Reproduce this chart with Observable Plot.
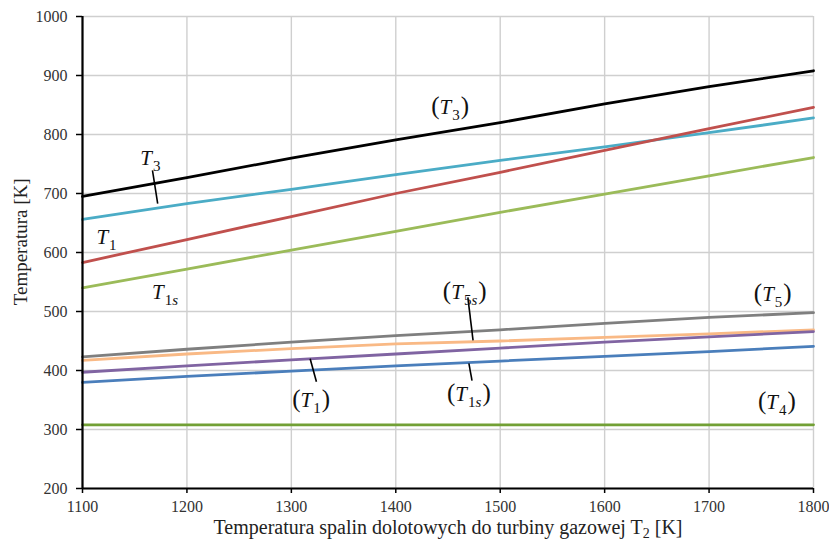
<!DOCTYPE html>
<html>
<head>
<meta charset="utf-8">
<script src="https://cdn.jsdelivr.net/npm/d3@7"></script>
<script src="https://cdn.jsdelivr.net/npm/@observablehq/plot@0.6"></script>
<style>
  html, body { margin: 0; padding: 0; background: #fff; }
  #chart svg { display: block; font-family: "Liberation Serif", "DejaVu Serif", serif; }
  #chart svg text { font-family: "Liberation Serif", "DejaVu Serif", serif; }
</style>
</head>
<body>
<div id="chart"></div>
<script>
// Gas turbine exhaust temperature T2 [K] (x axis)
const t2 = [1100, 1200, 1300, 1400, 1500, 1600, 1700, 1800];

// Temperature series [K]
const seriesT3     = [695, 727, 760, 791, 820, 852, 881, 908];  // black
const seriesT3b    = [656, 683, 707, 732, 756, 779, 803, 828];  // cyan
const seriesT1     = [583, 622, 661, 700, 736, 773, 810, 846];  // red
const seriesT1s    = [540, 572, 604, 636, 668, 699, 730, 761];  // light green
const seriesT5     = [423, 436, 448, 459, 469, 480, 490, 498];  // gray
const seriesT5s    = [417, 428, 437, 445, 450, 456, 462, 469];  // orange
const seriesT1p    = [397, 408, 418, 428, 438, 448, 457, 466];  // purple
const seriesT1sp   = [380, 390, 399, 408, 416, 424, 432, 441];  // blue
const seriesT4     = [308, 308, 308, 308, 308, 308, 308, 308];  // dark green

const seriesNames  = ["T3", "T3b", "T1", "T1s", "T5", "T5s", "T1p", "T1sp", "T4"];
const seriesValues = [seriesT3, seriesT3b, seriesT1, seriesT1s, seriesT5, seriesT5s, seriesT1p, seriesT1sp, seriesT4];
const seriesColors = ["#000000", "#4bacc6", "#c0504d", "#9bbb59", "#7f7f7f", "#f9b985", "#8064a2", "#4a7ebb", "#72a035"];

const xTicks = [1100, 1200, 1300, 1400, 1500, 1600, 1700, 1800];
const yTicks = [200, 300, 400, 500, 600, 700, 800, 900, 1000];

// Curve annotations (label text, anchor point in data units)
const labelText = ["T_3", "T_1", "(T_3)", "T_1s", "(T_1)", "(T_5s)", "(T_5)", "(T_1s)", "(T_4)"];
const labelX    = [1165, 1123, 1452, 1179, 1319, 1466, 1761, 1470, 1765];
const labelY    = [760, 625, 846, 532, 349, 532, 529, 359, 346];

// Leader lines linking labels to curves
const leaderX1 = [1167, 1318, 1469, 1470];
const leaderY1 = [739, 420, 524, 412];
const leaderX2 = [1172, 1324, 1474, 1473];
const leaderY2 = [683, 381, 451, 383];

const rows = seriesNames.flatMap((name, i) =>
  t2.map((x, j) => ({series: name, x, y: seriesValues[i][j]})));
const labels = labelText.map((text, i) => ({text, x: labelX[i], y: labelY[i]}));
const leaders = leaderX1.map((x1, i) => ({x1, y1: leaderY1[i], x2: leaderX2[i], y2: leaderY2[i]}));

const serif = "Liberation Serif, DejaVu Serif, serif";

const chart = Plot.plot({
  width: 829,
  height: 547,
  marginLeft: 82,
  marginRight: 16,
  marginTop: 16,
  marginBottom: 59,
  style: {fontFamily: serif, fontSize: "16px", color: "#333", background: "#fff"},
  x: {domain: [1100, 1800], ticks: xTicks},
  y: {domain: [200, 1000], ticks: yTicks},
  color: {domain: seriesNames, range: seriesColors},
  marks: [
    Plot.gridX(xTicks, {stroke: "#cfcfcf", strokeOpacity: 1, strokeWidth: 1.4}),
    Plot.gridY(yTicks, {stroke: "#cfcfcf", strokeOpacity: 1, strokeWidth: 1.4}),
    Plot.axisX(xTicks, {tickSize: 5, tickPadding: 7, stroke: "#000", strokeWidth: 1.5, label: null,
      tickFormat: d => String(d), fontFamily: serif, fontSize: 16, fill: "#333"}),
    Plot.axisY(yTicks, {tickSize: 6, tickPadding: 9, stroke: "#000", strokeWidth: 1.5, label: null,
      tickFormat: d => String(d), fontFamily: serif, fontSize: 16, fill: "#333"}),
    Plot.line(rows, {x: "x", y: "y", z: "series", stroke: "series", strokeWidth: 2.8}),
    Plot.ruleX([1100], {stroke: "#000", strokeWidth: 2.2}),
    Plot.ruleY([200], {stroke: "#000", strokeWidth: 2.2}),
    Plot.link(leaders, {x1: "x1", y1: "y1", x2: "x2", y2: "y2", stroke: "#000", strokeWidth: 1.6}),
    Plot.text(labels, {x: "x", y: "y", text: "text", fontSize: 21, fontFamily: serif, fill: "#111", textAnchor: "middle"}),
    Plot.text(["Temperatura spalin dolotowych do turbiny gazowej T_2 [K]"], {
      x: 1450, frameAnchor: "bottom", dy: 45, fontSize: 20, fontFamily: serif, fill: "#222", text: d => d
    }),
    Plot.text(["Temperatura [K]"], {
      y: 618, frameAnchor: "left", dx: -62, rotate: -90, textAnchor: "middle",
      fontSize: 19, fontFamily: serif, fill: "#222", text: d => d
    })
  ]
});

// Turn "T_xx" into T with a subscript; annotation parentheses are drawn taller
const svgNS = "http://www.w3.org/2000/svg";
function tspan(parent, txt, attrs) {
  const t = document.createElementNS(svgNS, "tspan");
  for (const k in attrs) t.setAttribute(k, attrs[k]);
  t.textContent = txt;
  parent.appendChild(t);
  return t;
}
chart.querySelectorAll("text").forEach(el => {
  const s = el.textContent;
  if (!s.includes("T_")) return;
  const isAxisTitle = s.length > 12;
  el.textContent = "";
  const parts = s.split(/(T_\w+)/);
  let shift = 0;
  for (const p of parts) {
    if (!p) continue;
    if (p.startsWith("T_")) {
      const subTxt = p.slice(2);
      tspan(el, "T", isAxisTitle ? {dy: -shift} : {"font-style": "italic", dy: -shift});
      shift = 0;
      const down = isAxisTitle ? 4 : 6;
      let first = true;
      for (const ch of subTxt) {
        const a = {"font-size": isAxisTitle ? "14px" : "15px"};
        if (/[a-z]/.test(ch)) a["font-style"] = "italic";
        if (first) { a.dy = down; if (!isAxisTitle) a.dx = 1; }
        tspan(el, ch, a);
        first = false;
      }
      shift = down;
    } else {
      const a = {dy: -shift};
      if (!isAxisTitle) { a["font-size"] = "25px"; if (p === ")") a.dx = 1; }
      tspan(el, p, a);
      shift = 0;
    }
  }
});

document.getElementById("chart").appendChild(chart);
</script>
</body>
</html>
